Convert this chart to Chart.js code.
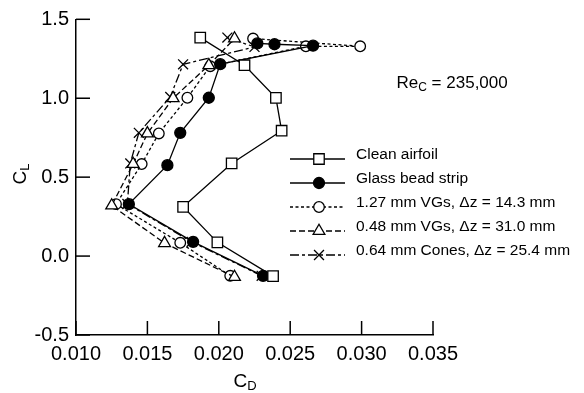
<!DOCTYPE html>
<html>
<head>
<meta charset="utf-8">
<script src="https://cdn.jsdelivr.net/npm/chart.js@4.4.1/dist/chart.umd.min.js"></script>
<style>
  html, body { margin: 0; padding: 0; background: #fff; }
  #wrap { position: relative; width: 584px; height: 393px; }
</style>
</head>
<body>
<div id="wrap"><canvas id="polar" width="584" height="393"></canvas></div>
<script>
// Drag polars (C_L vs C_D) at Re_c = 235,000 for several surface treatments.
const cleanCd = [0.0238, 0.0199, 0.0175, 0.0209, 0.0244, 0.0240, 0.0218, 0.0187];
const cleanCl = [-0.127, 0.087, 0.312, 0.587, 0.794, 1.002, 1.209, 1.384];

const beadCd = [0.0231, 0.0182, 0.0137, 0.0164, 0.0173, 0.0193, 0.0201, 0.0266, 0.0239, 0.0227];
const beadCl = [-0.125, 0.090, 0.329, 0.576, 0.781, 1.003, 1.216, 1.333, 1.342, 1.347];

const vg127Cd = [0.0208, 0.0173, 0.0128, 0.0146, 0.0158, 0.0178, 0.0194, 0.0261, 0.0299, 0.0224];
const vg127Cl = [-0.125, 0.084, 0.329, 0.583, 0.777, 1.003, 1.203, 1.329, 1.329, 1.378];

const vg048Cd = [0.0211, 0.0162, 0.0125, 0.0140, 0.0150, 0.0168, 0.0193, 0.0211];
const vg048Cl = [-0.133, 0.082, 0.320, 0.583, 0.777, 1.000, 1.209, 1.378];

const coneCd = [0.0230, 0.0181, 0.0136, 0.0138, 0.0144, 0.0166, 0.0175, 0.0225, 0.0206];
const coneCl = [-0.125, 0.090, 0.330, 0.587, 0.781, 1.008, 1.215, 1.325, 1.384];

const xTickValues = [0.010, 0.015, 0.020, 0.025, 0.030, 0.035];
const yTickValues = [-0.5, 0.0, 0.5, 1.0, 1.5];

const seriesLabels = [
  'Clean airfoil',
  'Glass bead strip',
  '1.27 mm VGs, \u0394z = 14.3 mm',
  '0.48 mm VGs, \u0394z = 31.0 mm',
  '0.64 mm Cones, \u0394z = 25.4 mm'
];

const FONT = "'Liberation Sans', Arial, Helvetica, sans-serif";
const INK = '#000';
const LINE_W = 1.3;

// Marker and line styling per series (draw order: lower "order" ends up on top)
const seriesStyles = [
  { pointStyle: 'rect',     radius: 7.4, fill: '#fff', dash: [],          order: 0 },
  { pointStyle: 'circle',   radius: 5.5, fill: '#000', dash: [],          order: 1 },
  { pointStyle: 'circle',   radius: 5.3, fill: '#fff', dash: [3, 2.5],    order: 3 },
  { pointStyle: 'triangle', radius: 6.8, fill: '#fff', dash: [6, 3],      order: 2 },
  { pointStyle: 'crossRot', radius: 7,   fill: '#fff', dash: [9, 3, 3, 3], order: 4 }
];

const seriesData = [
  [cleanCd, cleanCl],
  [beadCd, beadCl],
  [vg127Cd, vg127Cl],
  [vg048Cd, vg048Cl],
  [coneCd, coneCl]
];

const datasets = seriesData.map(([cd, cl], i) => {
  const s = seriesStyles[i];
  return {
    label: seriesLabels[i],
    data: cd.map((v, k) => ({ x: v, y: cl[k] })),
    showLine: true,
    tension: 0,
    borderColor: INK,
    borderWidth: LINE_W,
    borderDash: s.dash,
    pointStyle: s.pointStyle,
    pointRadius: s.radius,
    pointHoverRadius: s.radius,
    pointBackgroundColor: s.fill,
    pointBorderColor: INK,
    pointBorderWidth: LINE_W,
    order: s.order,
    clip: false
  };
});

// Text with a subscript, drawn left-aligned from (x, y) on the baseline
function textWithSub(ctx, x, y, main, sub, size, subSize, drop, tail) {
  ctx.font = size + 'px ' + FONT;
  ctx.fillText(main, x, y);
  let cx = x + ctx.measureText(main).width;
  ctx.font = subSize + 'px ' + FONT;
  ctx.fillText(sub, cx, y + drop);
  cx += ctx.measureText(sub).width;
  if (tail) {
    ctx.font = size + 'px ' + FONT;
    ctx.fillText(tail, cx, y);
    cx += ctx.measureText(tail).width;
  }
  return cx - x;
}

function subWidth(ctx, main, sub, size, subSize) {
  ctx.font = size + 'px ' + FONT;
  const a = ctx.measureText(main).width;
  ctx.font = subSize + 'px ' + FONT;
  return a + ctx.measureText(sub).width;
}

const TICK_LEN = 14;

const decorations = {
  id: 'decorations',
  afterDraw(chart) {
    const { ctx, scales: { x, y } } = chart;
    ctx.save();
    ctx.setLineDash([]);
    ctx.strokeStyle = INK;
    ctx.fillStyle = INK;
    ctx.lineWidth = 1.5;

    // inward tick marks
    xTickValues.forEach(v => {
      const px = x.getPixelForValue(v);
      ctx.beginPath();
      ctx.moveTo(px, y.bottom);
      ctx.lineTo(px, y.bottom - TICK_LEN);
      ctx.stroke();
    });
    yTickValues.forEach(v => {
      const py = y.getPixelForValue(v);
      ctx.beginPath();
      ctx.moveTo(x.left, py);
      ctx.lineTo(x.left + TICK_LEN, py);
      ctx.stroke();
    });

    // axis titles
    ctx.textBaseline = 'alphabetic';
    ctx.textAlign = 'left';
    const tSize = 19, tSub = 13;
    const wD = subWidth(ctx, 'C', 'D', tSize, tSub);
    textWithSub(ctx, 245 - wD / 2, 387, 'C', 'D', tSize, tSub, 3);

    const wL = subWidth(ctx, 'C', 'L', tSize, tSub);
    ctx.save();
    ctx.translate(25.5, 174 + wL / 2);
    ctx.rotate(-Math.PI / 2);
    textWithSub(ctx, 0, 0, 'C', 'L', tSize, tSub, 3);
    ctx.restore();

    // Reynolds number note
    textWithSub(ctx, 396.5, 88, 'Re', 'C', 17, 12, 3, ' = 235,000');

    // legend: line sample, marker, label
    const lx0 = 290, lx1 = 345, mx = 319, tx = 356;
    seriesLabels.forEach((label, i) => {
      const ly = 159 + i * 24;
      const s = seriesStyles[i];
      ctx.lineWidth = LINE_W;
      ctx.setLineDash(s.dash);
      ctx.beginPath();
      ctx.moveTo(lx0, ly);
      ctx.lineTo(lx1, ly);
      ctx.stroke();
      ctx.setLineDash([]);
      ctx.fillStyle = s.fill;
      ctx.strokeStyle = INK;
      Chart.helpers.drawPoint(ctx, { pointStyle: s.pointStyle, radius: s.radius, rotation: 0, borderWidth: LINE_W }, mx, ly);
      ctx.fillStyle = INK;
      ctx.font = '15.5px ' + FONT;
      ctx.fillText(label, tx, ly);
    });
    ctx.restore();
  }
};

const axisCommon = {
  type: 'linear',
  grid: { display: false, drawTicks: false },
  border: { display: true, color: INK, width: 1.5 },
  title: { display: false }
};

new Chart(document.getElementById('polar'), {
  type: 'scatter',
  data: { datasets },
  options: {
    responsive: false,
    animation: false,
    devicePixelRatio: 1,
    layout: { padding: { left: 0, right: 151, top: 19.3, bottom: 0 } },
    plugins: { legend: { display: false }, tooltip: { enabled: false } },
    scales: {
      x: Object.assign({}, axisCommon, {
        min: 0.010, max: 0.035,
        afterBuildTicks: s => { s.ticks = xTickValues.map(v => ({ value: v })); },
        afterFit: s => { s.height = 393 - 335; },
        ticks: {
          color: INK, padding: 7, maxRotation: 0, autoSkip: false,
          font: { family: FONT, size: 20 },
          callback: v => Number(v).toFixed(3)
        }
      }),
      y: Object.assign({}, axisCommon, {
        min: -0.5, max: 1.5,
        afterBuildTicks: s => { s.ticks = yTickValues.map(v => ({ value: v })); },
        afterFit: s => { s.width = 76; },
        ticks: {
          color: INK, padding: 7, autoSkip: false,
          font: { family: FONT, size: 20 },
          callback: v => Number(v).toFixed(1)
        }
      })
    }
  },
  plugins: [decorations]
});
</script>
</body>
</html>
